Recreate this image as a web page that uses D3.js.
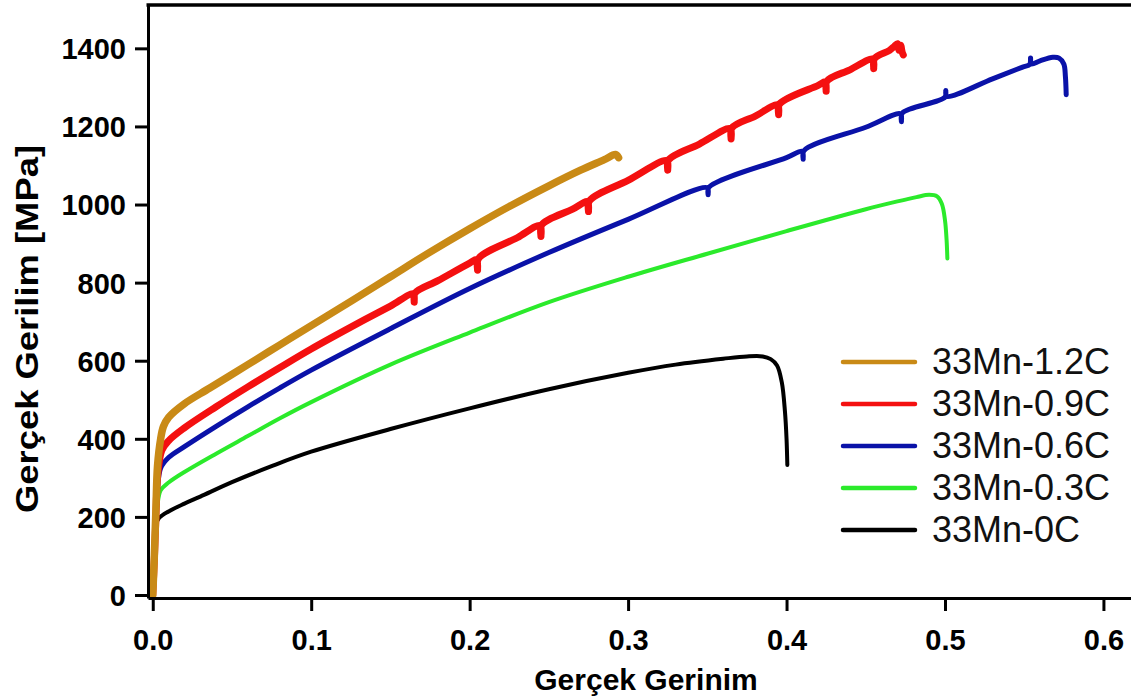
<!DOCTYPE html>
<html>
<head>
<meta charset="utf-8">
<script src="https://cdn.jsdelivr.net/npm/d3@7"></script>
<style>
  html, body { margin: 0; padding: 0; background: #ffffff; }
  svg { display: block; font-family: "Liberation Sans", Arial, sans-serif; }
</style>
</head>
<body>
<svg id="chart" width="1131" height="700"></svg>
<script>
// ---- data (true strain, true stress MPa) ----
const seriesNames = ["33Mn-1.2C", "33Mn-0.9C", "33Mn-0.6C", "33Mn-0.3C", "33Mn-0C"];
const seriesColors = ["#C98A16", "#F41010", "#0A12A8", "#2BEA2B", "#000000"];

const strain_0C  = [0, 0.0005, 0.0012, 0.002, 0.004, 0.01, 0.02, 0.03, 0.05, 0.075, 0.1, 0.15, 0.2, 0.25, 0.3, 0.33, 0.36, 0.375, 0.385, 0.39, 0.394, 0.397, 0.399, 0.4, 0.4005];
const stress_0C  = [0, 60, 150, 180, 197, 214, 234, 252, 289, 330, 367, 425, 478, 527, 569, 590, 605, 611, 611, 604, 588, 545, 470, 400, 333];

const strain_03C = [0, 0.001, 0.002, 0.003, 0.005, 0.01, 0.02, 0.04, 0.06, 0.08, 0.1, 0.15, 0.2, 0.25, 0.3, 0.35, 0.4, 0.45, 0.47, 0.482, 0.49, 0.495, 0.498, 0.5, 0.501, 0.5015];
const stress_03C = [0, 70, 160, 230, 268, 288, 315, 362, 407, 452, 494, 590, 672, 750, 815, 874, 932, 988, 1008, 1019, 1025, 1021, 1002, 960, 910, 862];

const strain_06C = [0, 0.001, 0.002, 0.003, 0.005, 0.01, 0.02, 0.04, 0.06, 0.08, 0.1, 0.15, 0.2, 0.25, 0.3, 0.35, 0.3505, 0.351, 0.4, 0.41, 0.4105, 0.411, 0.45, 0.472, 0.4725, 0.473, 0.5, 0.5005, 0.501, 0.53, 0.549, 0.5535, 0.554, 0.5545, 0.56, 0.568, 0.572, 0.575, 0.576, 0.5765];
const stress_06C = [0, 80, 180, 270, 325, 352, 380, 432, 482, 530, 576, 682, 785, 877, 962, 1043, 1025, 1044, 1120, 1136, 1116, 1138, 1198, 1232, 1212, 1234, 1275, 1292, 1277, 1322, 1352, 1359, 1375, 1360, 1368, 1377, 1375, 1360, 1328, 1281];

const strain_09C = [0, 0.001, 0.002, 0.003, 0.0057, 0.01, 0.02, 0.04, 0.06, 0.08, 0.1, 0.125, 0.15, 0.1645, 0.165, 0.1655, 0.18, 0.2, 0.2045, 0.205, 0.2055, 0.23, 0.2445, 0.245, 0.2455, 0.265, 0.2745, 0.275, 0.2755, 0.3, 0.3245, 0.325, 0.3255, 0.345, 0.3645, 0.365, 0.3655, 0.38, 0.3945, 0.395, 0.3955, 0.42, 0.4245, 0.425, 0.4255, 0.44, 0.4545, 0.455, 0.4555, 0.465, 0.468, 0.47, 0.471, 0.472, 0.473, 0.4737];
const stress_09C = [0, 90, 200, 300, 370, 395, 428, 482, 533, 582, 630, 686, 740, 771, 750, 773, 805, 850, 859, 832, 861, 915, 946, 918, 948, 988, 1007, 982, 1009, 1062, 1112, 1088, 1114, 1155, 1194, 1168, 1196, 1226, 1255, 1230, 1257, 1305, 1314, 1290, 1316, 1345, 1372, 1348, 1374, 1395, 1405, 1412, 1395, 1408, 1390, 1383];

const strain_12C = [0, 0.001, 0.002, 0.003, 0.005, 0.0067, 0.01, 0.02, 0.036, 0.06, 0.08, 0.1, 0.125, 0.15, 0.175, 0.2, 0.225, 0.25, 0.27, 0.285, 0.292, 0.294];
const stress_12C = [0, 100, 220, 330, 400, 431, 455, 490, 530, 590, 640, 690, 752, 815, 878, 938, 995, 1048, 1088, 1115, 1128, 1120];

const xTicks = [0, 0.1, 0.2, 0.3, 0.4, 0.5, 0.6];
const xTickLabels = ["0.0", "0.1", "0.2", "0.3", "0.4", "0.5", "0.6"];
const yTicks = [0, 200, 400, 600, 800, 1000, 1200, 1400];
const yTickLabels = ["0", "200", "400", "600", "800", "1000", "1200", "1400"];

const xTitle = "Gerçek Gerinim";
const yTitle = "Gerçek Gerilim [MPa]";

// build series table from the arrays
const seriesData = [
  { name: seriesNames[4], color: seriesColors[4], x: strain_0C,  y: stress_0C,  w: 4 },
  { name: seriesNames[3], color: seriesColors[3], x: strain_03C, y: stress_03C, w: 4 },
  { name: seriesNames[2], color: seriesColors[2], x: strain_06C, y: stress_06C, w: 5 },
  { name: seriesNames[1], color: seriesColors[1], x: strain_09C, y: stress_09C, w: 7 },
  { name: seriesNames[0], color: seriesColors[0], x: strain_12C, y: stress_12C, w: 7.5 }
];

// ---- layout ----
const svg = d3.select("#chart");
const mLeft = 148, mRight = 1131, mTop = 5, mBottom = 598;

const x = d3.scaleLinear().domain([-0.003, 0.6174]).range([mLeft, mRight]);
const y = d3.scaleLinear().domain([-7.7, 1511]).range([mBottom, mTop]);

const axisColor = "#000";

const lineV = d3.line()
  .x(d => x(d[0]))
  .y(d => y(d[1]))
  .curve(d3.curveCatmullRom.alpha(0.5));

svg.append("g").selectAll("path")
  .data(seriesData)
  .join("path")
  .attr("d", s => lineV(s.x.map((v, i) => [v, s.y[i]])))
  .attr("fill", "none")
  .attr("stroke", s => s.color)
  .attr("stroke-width", s => s.w)
  .attr("stroke-linejoin", "round")
  .attr("stroke-linecap", "round");

// axes
const xAxis = d3.axisBottom(x)
  .tickValues(xTicks)
  .tickFormat((d, i) => xTickLabels[i])
  .tickSizeInner(13)
  .tickSizeOuter(0)
  .tickPadding(18);

const gx = svg.append("g").attr("transform", `translate(0,${mBottom})`).call(xAxis);
gx.select(".domain").attr("stroke", axisColor).attr("stroke-width", 3);
gx.selectAll(".tick line").attr("stroke", axisColor).attr("stroke-width", 3);
gx.selectAll(".tick text")
  .attr("fill", "#000")
  .style("font-size", "29px")
  .style("font-weight", "bold")
  .style("font-family", "'Liberation Sans', Arial, sans-serif");

const yAxis = d3.axisLeft(y)
  .tickValues(yTicks)
  .tickFormat((d, i) => yTickLabels[i])
  .tickSizeInner(13)
  .tickSizeOuter(0)
  .tickPadding(9);

const gy = svg.append("g").attr("transform", `translate(${mLeft},0)`).call(yAxis);
gy.select(".domain").attr("stroke", axisColor).attr("stroke-width", 3);
gy.selectAll(".tick line").attr("stroke", axisColor).attr("stroke-width", 3);
gy.selectAll(".tick text")
  .attr("fill", "#000")
  .attr("dy", "0.36em")
  .style("font-size", "29px")
  .style("font-weight", "bold")
  .style("font-family", "'Liberation Sans', Arial, sans-serif");

// top border line
svg.append("line")
  .attr("x1", mLeft - 1.5).attr("x2", mRight)
  .attr("y1", mTop).attr("y2", mTop)
  .attr("stroke", axisColor).attr("stroke-width", 3.5);

// axis titles
svg.append("text")
  .attr("x", 646).attr("y", 690)
  .attr("text-anchor", "middle")
  .style("font-size", "30px")
  .style("font-weight", "bold")
  .text(xTitle);

svg.append("text")
  .attr("transform", "translate(38,329) rotate(-90)")
  .attr("text-anchor", "middle")
  .style("font-size", "32px")
  .style("font-weight", "bold")
  .attr("textLength", 368)
  .attr("lengthAdjust", "spacingAndGlyphs")
  .text(yTitle);

// legend
const legendX = 843, legendY0 = 362, legendStep = 42;
const legend = svg.append("g");
seriesNames.forEach((name, i) => {
  const yy = legendY0 + i * legendStep;
  legend.append("line")
    .attr("x1", legendX).attr("x2", legendX + 72)
    .attr("y1", yy).attr("y2", yy)
    .attr("stroke", seriesColors[i])
    .attr("stroke-width", 4.5)
    .attr("stroke-linecap", "round");
  legend.append("text")
    .attr("x", legendX + 89)
    .attr("y", yy + 12)
    .style("font-size", "36px")
    .attr("fill", "#111")
    .text(name);
});
</script>
</body>
</html>
